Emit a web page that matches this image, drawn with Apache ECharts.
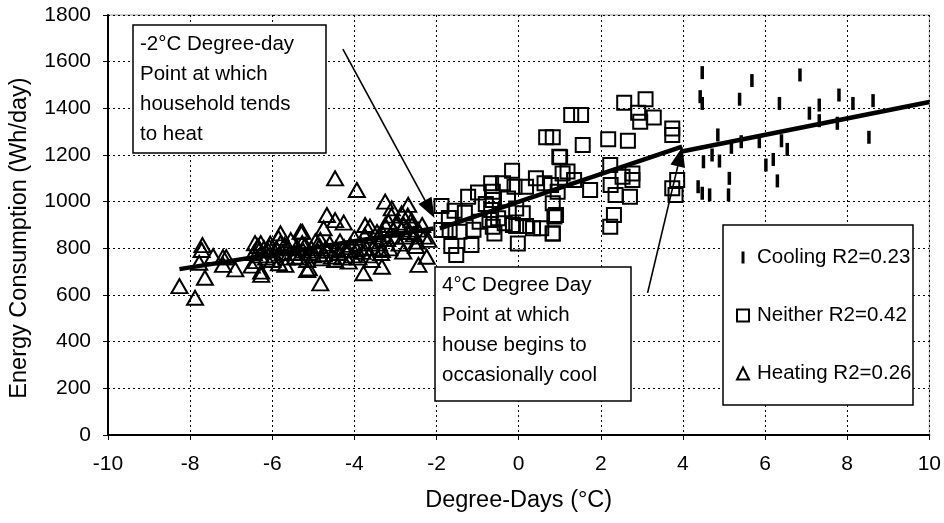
<!DOCTYPE html>
<html><head><meta charset="utf-8">
<script src="https://cdn.jsdelivr.net/npm/echarts@6/dist/echarts.min.js"></script>
<style>html,body{margin:0;padding:0;background:#fff}#c{width:944px;height:523px}</style>
</head><body><div id="c"></div>
<script>
// ---- data (Degree-Days °C, Wh/day) ----
const coolingPts = [
[4.47,1553],[4.42,1450],[4.47,1421],[5.68,1519],[6.85,1543],[5.38,1439],[6.35,1421],[7.08,1379],
[7.32,1414],[7.32,1347],[7.80,1457],[7.76,1336],[8.14,1421],[8.63,1433],[8.53,1276],[4.85,1286],
[5.18,1233],[5.42,1257],[5.86,1257],[6.40,1261],[6.54,1224],[4.50,1171],[4.71,1200],[4.89,1174],
[6.02,1157],[6.20,1181],[6.30,1089],[5.13,1100],[4.37,1064],[4.47,1036],[4.65,1029],[5.11,1029]
];
const neitherPts = [
[0.67,1276],[0.99,1193],[-1.88,981],[-1.56,961],[-1.31,953],[-1.88,879],[-1.68,879],[-1.44,871],
[-1.64,810],[-1.52,771],[-1.15,814],[-1.23,1021],[-0.99,1039],[-0.67,1079],[-0.63,1043],[-0.63,1007],
[-0.38,1079],[-0.16,1133],[-0.10,1064],[0.18,1064],[0.42,1100],[0.63,1079],[0.79,1071],[0.83,993],
[0.87,936],[0.83,864],[0.55,886],[0.35,886],[0.18,896],[-0.06,896],[-0.02,821],[0.10,950],
[-0.06,971],[-0.26,1014],[-0.95,914],[-0.71,921],[-0.63,893],[-0.59,864],[-0.50,929],[-0.34,907],
[-0.14,900],[-0.67,964],[-1.70,930],[-1.10,880],[-0.80,990],
[1.28,1371],[1.52,1371],[2.57,1424],[3.09,1439],[2.91,1381],[2.96,1343],[3.29,1361],[3.74,1314],
[3.74,1286],[1.56,1243],[2.18,1267],[2.66,1261],[1.01,1190],[0.83,1276],[2.23,1157],[1.19,1129],
[1.35,1093],[1.74,1050],[0.95,1043],[2.24,1071],[2.36,1029],[2.71,1021],[2.53,1107],[2.77,1121],
[2.77,1093],[2.32,943],[2.23,893],[0.91,943],[0.83,864],[3.86,1093],[3.74,1057],[3.82,1029],[1.07,1121]
];
const heatingPts = [
[-8.26,638],[-7.88,588],[-7.70,814],[-7.72,793],[-7.78,738],[-7.64,674],[-7.44,767],[-7.20,762],
[-7.12,762],[-7.20,729],[-6.90,710],[-6.50,726],[-6.42,822],[-6.28,822],[-6.27,700],[-6.27,686],
[-6.32,793],[-6.08,807],[-6.00,750],[-5.80,864],[-5.80,822],[-5.84,736],[-5.68,729],[-5.31,871],
[-5.27,822],[-5.44,764],[-5.15,750],[-5.15,707],
[-4.47,1100],[-3.94,1050],[-4.67,943],[-4.47,921],[-4.26,910],[-4.75,886],[-4.83,836],[-5.27,871],
[-5.11,714],[-4.83,650],[-4.79,757],[-4.47,750],[-4.14,743],[-4.22,793],[-3.78,693],[-3.74,900],
[-3.62,893],[-3.33,721],[-3.25,1000],[-3.09,971],[-2.69,986],[-2.85,950],[-2.61,921],[-2.48,829],
[-2.20,836],[-2.24,764],[-2.44,729],[-2.81,786],[-3.17,914],[-3.41,850],[-3.33,793],[-3.58,750],
[-6.45,780],[-6.40,745],[-6.35,810],[-6.30,770],[-6.20,800],[-6.15,760],[-6.10,790],[-6.05,820],
[-5.95,770],[-5.90,800],[-5.85,845],[-5.75,780],[-5.70,815],[-5.65,760],[-5.60,800],[-5.55,835],
[-5.45,780],[-5.40,805],[-5.35,760],[-5.25,790],[-5.20,815],[-5.10,780],[-5.05,800],[-5.00,770],
[-4.95,830],[-4.90,790],[-4.85,810],[-4.75,775],[-4.70,800],[-4.65,790],[-4.60,820],[-4.55,765],
[-4.45,800],[-4.40,780],[-4.35,830],[-4.30,760],[-4.25,805],[-4.15,790],[-4.10,815],[-4.05,770],
[-4.00,845],[-3.95,795],[-3.90,760],[-3.85,820],[-3.80,785],[-3.75,855],[-3.70,800],[-3.65,770],
[-3.60,830],[-3.55,800],[-3.45,870],[-3.40,820],[-3.35,780],[-3.30,860],[-3.25,900],[-3.20,840],
[-3.15,800],[-3.10,940],[-3.05,880],[-3.00,850],[-2.95,910],[-2.90,820],[-2.85,880],[-2.80,900],
[-2.75,850],[-2.70,940],[-2.65,870],[-2.60,900],[-2.55,860],[-2.50,810],[-2.45,880],[-2.35,900],[-2.30,850]
];
// fitted trend lines (start, end)
const heatingFit = [[-8.26,711],[-2.07,885]];
const neitherFit = [[-1.92,886],[3.98,1236]];
const coolingFit = [[3.94,1214],[10,1427]];
// annotation arrows in data units: [from, to]
const arrowHeat = [[-4.28,1654],[-2.165,968]];
const arrowCool = [[3.14,609],[3.93,1193]];
const legendNames = ['Cooling R2=0.23','Neither R2=0.42','Heating R2=0.26'];
const note1 = ['-2°C Degree-day','Point at which','household tends','to heat'];
const note2 = ['4°C Degree Day','Point at which','house begins to','occasionally cool'];

const FONT = '"Liberation Sans", Arial, sans-serif';
const chart = echarts.init(document.getElementById('c'));
const fitLine = (name, d) => ({
  name, type:'line', data:d, showSymbol:false, symbol:'none', z:6, silent:true,
  lineStyle:{color:'#000', width:4.5}
});
chart.setOption({
  animation:false,
  backgroundColor:'#fff',
  grid:{left:105, right:14, top:15, bottom:88, show:true, borderColor:'#9a9a9a', borderWidth:1, backgroundColor:'#fff'},
  xAxis:{type:'value', min:-10, max:10, interval:2,
    axisLine:{onZero:false, lineStyle:{color:'#000', width:2}},
    axisTick:{show:true, length:5, lineStyle:{color:'#000', width:1}},
    splitLine:{show:true, lineStyle:{color:'#000', type:[2,3], width:1}},
    axisLabel:{color:'#000', fontSize:21, fontFamily:FONT, margin:19},
    name:'Degree-Days (°C)', nameLocation:'middle', nameGap:54,
    nameTextStyle:{color:'#000', fontSize:23.5, fontFamily:FONT}},
  yAxis:{type:'value', min:0, max:1800, interval:200,
    axisLine:{onZero:false, lineStyle:{color:'#000', width:2}},
    axisTick:{show:true, length:5, lineStyle:{color:'#000', width:1}},
    splitLine:{show:true, lineStyle:{color:'#000', type:[2,3], width:1}},
    axisLabel:{color:'#000', fontSize:21, fontFamily:FONT, margin:17, formatter:(v)=>String(v)},
    name:'Energy Consumption (Wh/day)', nameLocation:'middle', nameGap:76, nameRotate:90,
    nameTextStyle:{color:'#000', fontSize:23.5, fontFamily:FONT, padding:[0,26,0,0]}},
  legend:{
    orient:'vertical', left:731, top:242, z:10, itemGap:37,
    itemWidth:12, itemHeight:12, symbolKeepAspect:true,
    data:[
      {name:legendNames[0], icon:'path://M0,0h3v12h-3z'},
      {name:legendNames[1], icon:'rect'},
      {name:legendNames[2], icon:'triangle'}
    ],
    textStyle:{color:'#000', fontSize:20.5, fontFamily:FONT, lineHeight:20, padding:[0,0,0,3]},
    selectedMode:false
  },
  graphic:[
    {type:'rect', z:3, shape:{x:133, y:25, width:193, height:128}, style:{fill:'#fff', stroke:'#000', lineWidth:1.5}},
    {type:'text', z:4, style:{x:140, y:29, text:note1.join('\n'), fontSize:20.5, fontFamily:FONT, lineHeight:30, fill:'#000'}},
    {type:'rect', z:3, shape:{x:435, y:267, width:196, height:134}, style:{fill:'#fff', stroke:'#000', lineWidth:1.5}},
    {type:'text', z:4, style:{x:442, y:270, text:note2.join('\n'), fontSize:20.5, fontFamily:FONT, lineHeight:30, fill:'#000'}},
    {type:'rect', z:3, shape:{x:723, y:225, width:190, height:180}, style:{fill:'#fff', stroke:'#000', lineWidth:1.5}}
  ],
  series:[
    {name:legendNames[0], type:'scatter', data:coolingPts, symbol:'rect', symbolSize:[3.5,13], z:4,
      itemStyle:{color:'#000', opacity:1}},
    {name:legendNames[1], type:'scatter', data:neitherPts, symbol:'rect', symbolSize:14, z:4,
      itemStyle:{color:'rgba(0,0,0,0)', borderColor:'#000', borderWidth:2, opacity:1}},
    {name:legendNames[2], type:'scatter', data:heatingPts, symbol:'triangle', symbolSize:[16,14], z:4,
      itemStyle:{color:'rgba(0,0,0,0)', borderColor:'#000', borderWidth:2, opacity:1}},
    fitLine('heatFit', heatingFit),
    fitLine('neitherFit', neitherFit),
    fitLine('coolFit', coolingFit),
    {name:'arrows', type:'line', data:[], z:7,
      markLine:{silent:true, symbol:['none','triangle'], symbolSize:[15,20], precision:4,
        label:{show:false}, emphasis:{disabled:true},
        lineStyle:{color:'#000', width:1.6, type:'solid'},
        data:[
          [{coord:arrowHeat[0]},{coord:arrowHeat[1]}],
          [{coord:arrowCool[0]},{coord:arrowCool[1]}]
        ]}}
  ]
});
</script>
</body></html>
